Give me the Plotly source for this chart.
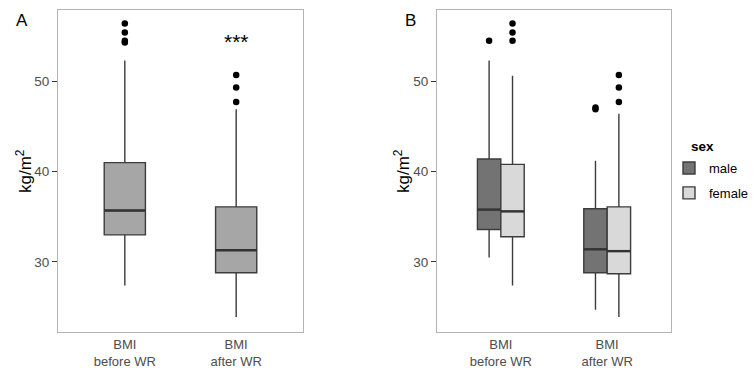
import plotly.graph_objects as go

# ---------------- data ----------------
categories = ["BMI<br>before WR", "BMI<br>after WR"]

# Panel A (all subjects)
a_q1 = [33.0, 28.8]
a_median = [35.7, 31.3]
a_q3 = [41.0, 36.1]
a_low = [27.4, 23.9]
a_high = [52.3, 46.9]
a_outliers = [[56.4, 55.4, 54.5, 54.3], [50.7, 49.3, 47.7]]

# Panel B (by sex)
sexes = ["male", "female"]
b_q1 = {"male": [33.6, 28.8], "female": [32.8, 28.7]}
b_median = {"male": [35.8, 31.4], "female": [35.6, 31.2]}
b_q3 = {"male": [41.4, 35.9], "female": [40.8, 36.1]}
b_low = {"male": [30.5, 24.7], "female": [27.4, 23.9]}
b_high = {"male": [52.3, 41.2], "female": [50.6, 46.4]}
b_outliers = {"male": [[54.5], [47.1, 46.9]],
              "female": [[56.4, 55.4, 54.5], [50.7, 49.3, 47.7]]}

signif_label = "***"
signif_y = 54.4
ytick_vals = [30, 40, 50]
y_title = "kg/m<sup>2</sup>"
legend_title = "sex"

# ---------------- style ----------------
FONT = "Liberation Sans, Arial, sans-serif"
OUTLINE = "#3c3c3c"
fill_a = "#a6a6a6"
fill_b = {"male": "#737373", "female": "#d9d9d9"}
offs = {"male": -0.11, "female": 0.11}
WA = 0.37
WB = 0.22

fig = go.Figure()
pos = [1, 2]

# Panel A boxes
for i in range(2):
    fig.add_trace(go.Box(
        x=[pos[i]], q1=[a_q1[i]], median=[a_median[i]], q3=[a_q3[i]],
        lowerfence=[a_low[i]], upperfence=[a_high[i]],
        width=WA, whiskerwidth=0, fillcolor=fill_a,
        line=dict(color=OUTLINE, width=1.4), boxpoints=False,
        showlegend=False, xaxis="x", yaxis="y", hoverinfo="skip"))
    fig.add_trace(go.Scatter(
        x=[pos[i] - WA / 2, pos[i] + WA / 2], y=[a_median[i]] * 2,
        mode="lines", line=dict(color="#333333", width=2.4),
        showlegend=False, xaxis="x", yaxis="y", hoverinfo="skip"))
    fig.add_trace(go.Scatter(
        x=[pos[i]] * len(a_outliers[i]), y=a_outliers[i], mode="markers",
        marker=dict(color="black", size=6.5), showlegend=False,
        xaxis="x", yaxis="y", hoverinfo="skip"))

# Panel B boxes
for s in sexes:
    xs = [p + offs[s] for p in pos]
    fig.add_trace(go.Box(
        x=xs, q1=b_q1[s], median=b_median[s], q3=b_q3[s],
        lowerfence=b_low[s], upperfence=b_high[s],
        width=WB, whiskerwidth=0, fillcolor=fill_b[s],
        line=dict(color=OUTLINE, width=1.4), boxpoints=False,
        name=s, legendgroup=s, showlegend=True,
        xaxis="x2", yaxis="y2", hoverinfo="skip"))
    for i in range(2):
        fig.add_trace(go.Scatter(
            x=[xs[i] - WB / 2, xs[i] + WB / 2], y=[b_median[s][i]] * 2,
            mode="lines", line=dict(color="#333333", width=2.4),
            showlegend=False, xaxis="x2", yaxis="y2", hoverinfo="skip"))
        fig.add_trace(go.Scatter(
            x=[xs[i]] * len(b_outliers[s][i]), y=b_outliers[s][i], mode="markers",
            marker=dict(color="black", size=6.5), showlegend=False,
            xaxis="x2", yaxis="y2", hoverinfo="skip"))

W, H = 754, 368
ydom = [1 - 332 / H, 1 - 10 / H]
yrange = [22.25, 57.89]

xax_common = dict(range=[0.4, 2.6], tickvals=pos, ticktext=categories,
                  showgrid=False, zeroline=False, showline=True, mirror=True,
                  linecolor="#b3b3b3", linewidth=1, ticks="",
                  tickfont=dict(family=FONT, size=13, color="#4d4d4d"),
                  automargin=False, fixedrange=True)
yax_common = dict(range=yrange, tickvals=ytick_vals, showgrid=False,
                  zeroline=False, showline=True, mirror=True,
                  linecolor="#b3b3b3", linewidth=1, ticks="outside",
                  ticklen=5, tickcolor="#333333", tickwidth=1,
                  tickfont=dict(family=FONT, size=13.5, color="#4d4d4d"),
                  domain=ydom, automargin=False, fixedrange=True)

ymid = 1 - 171 / H
fig.update_layout(
    width=W, height=H,
    margin=dict(l=0, r=0, t=0, b=0, autoexpand=False),
    paper_bgcolor="white", plot_bgcolor="white",
    boxmode="overlay",
    xaxis=dict(domain=[58 / W, 303 / W], anchor="y", **xax_common),
    yaxis=dict(anchor="x", **yax_common),
    xaxis2=dict(domain=[437 / W, 671 / W], anchor="y2", **xax_common),
    yaxis2=dict(anchor="x2", **yax_common),
    legend=dict(x=1, y=1 - 153 / H, xanchor="right", yanchor="top",
                font=dict(family=FONT, size=13, color="black"),
                bgcolor="rgba(0,0,0,0)", tracegroupgap=5, itemwidth=30),
    annotations=[
        dict(text="A", x=14 / W, y=1 - 20 / H, xref="paper", yref="paper",
             showarrow=False, xanchor="left", yanchor="middle",
             font=dict(family=FONT, size=17, color="black")),
        dict(text="B", x=403 / W, y=1 - 20 / H, xref="paper", yref="paper",
             showarrow=False, xanchor="left", yanchor="middle",
             font=dict(family=FONT, size=17, color="black")),
        dict(text=y_title, x=24 / W, y=ymid, xref="paper", yref="paper",
             textangle=-90, showarrow=False, xanchor="center", yanchor="middle",
             font=dict(family=FONT, size=17, color="black")),
        dict(text=y_title, x=402 / W, y=ymid, xref="paper", yref="paper",
             textangle=-90, showarrow=False, xanchor="center", yanchor="middle",
             font=dict(family=FONT, size=17, color="black")),
        dict(text=signif_label, x=2, y=signif_y, xref="x", yref="y",
             showarrow=False, xanchor="center", yanchor="middle",
             font=dict(family=FONT, size=21, color="black")),
        dict(text="<b>" + legend_title + "</b>", x=689 / W, y=1 - 146 / H,
             xref="paper", yref="paper", showarrow=False,
             xanchor="left", yanchor="middle",
             font=dict(family=FONT, size=13.5, color="black")),
    ],
)

fig.write_html(
    "out.html",
    config={"displayModeBar": False},
    post_script="document.body.style.margin='0';document.body.style.overflow='hidden';",
)
